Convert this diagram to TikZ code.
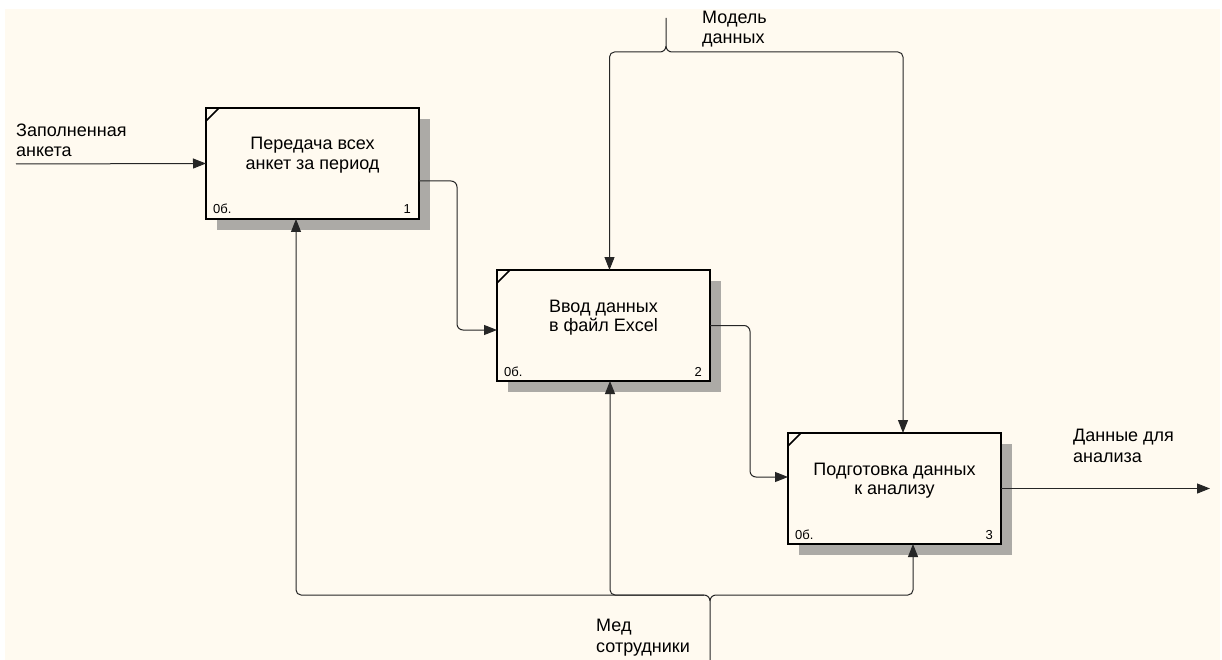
\documentclass[tikz,border=0pt]{standalone}
\usepackage{fontspec}
\setmainfont{Liberation Sans}
\usetikzlibrary{arrows.meta,backgrounds}
\definecolor{paper}{RGB}{255,250,240}
\definecolor{shadowgray}{RGB}{172,170,166}
\begin{document}
\begin{tikzpicture}[x=1pt,y=-1pt,
  func/.style={draw=black, line width=2.4pt, fill=paper, minimum width=213pt,
    minimum height=111pt, anchor=north west, inner sep=0pt, outer sep=0pt},
  boxtxt/.style={font=\fontsize{18}{19.5}\selectfont, align=center, anchor=base, inner sep=0pt},
  tag/.style={font=\fontsize{13}{14}\selectfont, inner sep=0pt},
  lbl/.style={font=\fontsize{18}{20.5}\selectfont, align=left, anchor=base west, inner sep=0pt},
  flow/.style={draw=black!85, line width=1pt, -{Triangle[length=13pt,width=10pt]}},
  tick/.style={line width=1.6pt}
]
\useasboundingbox (0,0) rectangle (1222,660);

% activity boxes
\node[func] (b1) at (206,108) {};
\node[func] (b2) at (497,270) {};
\node[func] (b3) at (788,433) {};

% page and drop shadows
\begin{pgfonlayer}{background}
  \fill[white] (0,0) rectangle (1222,660);
  \fill[paper] (5,9) rectangle (1220,660);
  \foreach \b in {b1,b2,b3}
    \fill[shadowgray] ([shift={(11,11)}]\b.north west) rectangle ([shift={(11,11)}]\b.south east);
\end{pgfonlayer}

% corner ticks, numbers and titles
\foreach \b/\n in {b1/1,b2/2,b3/3}{
  \draw[tick] ([yshift=-13pt]\b.north west) -- ([xshift=13pt]\b.north west);
  \node[tag, anchor=base west] at ([shift={(7,-5)}]\b.south west) {0б.};
  \node[tag, anchor=base east] at ([shift={(-8,-5)}]\b.south east) {\n};
}
% (base anchor of a two-line node sits on its last line)
\node[boxtxt] (t1) at ([yshift=-61.5pt]b1.north) {Передача всех\\анкет за период};
\node[boxtxt] (t2) at ([yshift=-61.5pt]b2.north) {Ввод данных\\в файл Excel};
\node[boxtxt] (t3) at ([yshift=-61.5pt]b3.north) {Подготовка данных\\к анализу};

% input
\coordinate (in1) at (16,164);
\draw[flow] (in1) -- (b1.west);
\node[lbl] (lin) at (16,157) {Заполненная\\анкета};

% flows between activities
\draw[flow, rounded corners=6pt] ([yshift=-17.5pt]b1.east) -- ++(38,0) |- ([yshift=-4.5pt]b2.west);
\draw[flow, rounded corners=6pt] (b2.east) -- ++(40,0) |- ([yshift=11.5pt]b3.west);

% output
\coordinate (out3) at (1210,488.5);
\draw[flow] (b3.east) -- (out3);
\node[lbl] (lout) at (1073,462) {Данные для\\анализа};

% control
\coordinate (ctl) at (666,18);
\coordinate (cfork) at (666,46);
\draw[flow] (ctl) -- (cfork) to[out=-90,in=0] (660,52) [rounded corners=5pt] -| ([xshift=6pt]b2.north);
\draw[flow] (cfork) to[out=-90,in=180] (672,52) [rounded corners=5pt] -| ([xshift=8.5pt]b3.north);
\node[lbl] (lctl) at (702,44) {Модель\\данных};

% mechanism
\coordinate (mech) at (710,660);
\coordinate (mfork) at (710,601);
\draw[flow] (mech) -- (mfork) to[out=90,in=0] (704,595) [rounded corners=5pt] -| ([xshift=-16.5pt]b1.south);
\draw[flow] (mfork) to[out=90,in=180] (716,595) [rounded corners=5pt] -| ([xshift=18.5pt]b3.south);
\draw[flow, rounded corners=5pt] (704,595) -| ([xshift=6.5pt]b2.south);
\node[lbl] (lmech) at (596,652) {Мед\\сотрудники};
\end{tikzpicture}
\end{document}
